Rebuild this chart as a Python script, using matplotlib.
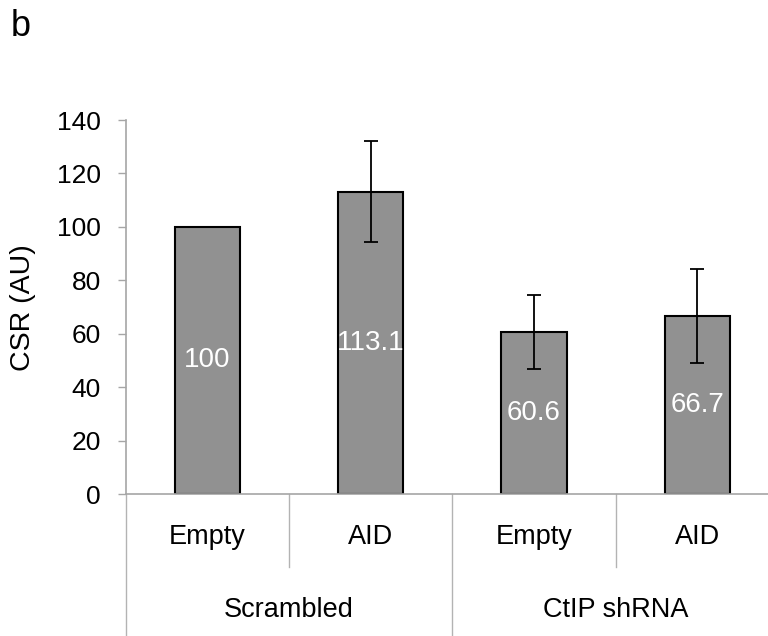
import numpy as np
import matplotlib
matplotlib.use("Agg")
import matplotlib.pyplot as plt

plt.rcParams['font.family'] = ['Liberation Sans', 'DejaVu Sans']

# datos del grafico
muestras = ["Empty", "AID", "Empty", "AID"]
grupos = ["Scrambled", "CtIP shRNA"]
valores = [100, 113.1, 60.6, 66.7]
errores = [0, 18.9, 13.9, 17.5]
etiquetas = ["100", "113.1", "60.6", "66.7"]

gris_eje = "#a6a6a6"
gris_sep = "#b3b3b3"

fig = plt.figure(figsize=(7.68, 6.36), dpi=100)
ax = fig.add_axes([125.7/768, (636-494)/636, (779-125.7)/768, 374/636])

x = np.arange(len(valores))
err = [e if e > 0 else np.nan for e in errores]
ax.bar(x, valores, width=0.4, color="#919191", edgecolor="black", linewidth=1.5, zorder=2)
ax.errorbar(x, valores, yerr=err, fmt="none", ecolor="black", elinewidth=1.3,
            capsize=5, capthick=1.3, zorder=3)

# etiquetas blancas dentro de las barras
for xi, v, t in zip(x, valores, etiquetas):
    ax.text(xi, v/2, t, color="white", ha="center", va="center", fontsize=20, zorder=4)

ax.set_xlim(-0.5, 3.5)
ax.set_ylim(0, 140)
ax.set_yticks(np.arange(0, 141, 20))
ax.tick_params(axis="y", length=6, color=gris_eje, width=1, labelsize=19, pad=12)
ax.set_xticks([])

for s in ["top", "right"]:
    ax.spines[s].set_visible(False)
ax.spines["left"].set_color(gris_eje)
ax.spines["bottom"].set_color(gris_eje)
ax.spines["left"].set_linewidth(1.2)
ax.spines["bottom"].set_linewidth(1.2)

# etiquetas de categorias en dos niveles
trans = ax.get_xaxis_transform()
for xi, m in zip(x, muestras):
    ax.text(xi, -43/374, m, ha="center", va="center", fontsize=19.5, transform=trans)
for i, g in enumerate(grupos):
    ax.text(2*i + 0.5, -116/374, g, ha="center", va="center", fontsize=19.5, transform=trans)

# lineas separadoras
for xs in [0.5, 2.5]:
    ax.plot([xs, xs], [0, -73/374], color=gris_sep, lw=1, transform=trans, clip_on=False)
for xs in [-0.5, 1.5, 3.5]:
    ax.plot([xs, xs], [0, -150/374], color=gris_sep, lw=1, transform=trans, clip_on=False)

fig.text(23/768, 1 - 308/636, "CSR (AU)", rotation=90, ha="center", va="center", fontsize=20.5)
fig.text(11/768, 1 - 26/636, "b", ha="left", va="center", fontsize=26)

plt.savefig("out.png", dpi=100)
